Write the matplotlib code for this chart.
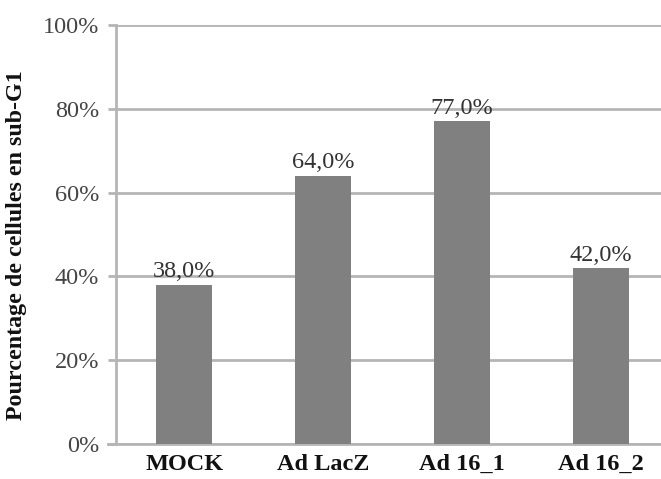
import matplotlib
matplotlib.use("Agg")
import matplotlib.pyplot as plt
from matplotlib.ticker import FuncFormatter

categories = ["MOCK", "Ad LacZ", "Ad 16_1", "Ad 16_2"]
values = [38.0, 64.0, 77.0, 42.0]
value_labels = ["38,0%", "64,0%", "77,0%", "42,0%"]
yticks = [0, 20, 40, 60, 80, 100]

plt.rcParams['font.family'] = ['Liberation Serif', 'DejaVu Serif']

fig = plt.figure(figsize=(6.61, 4.79), dpi=100)
axw = 1 - 116/661 + 0.02
ax = fig.add_axes([116/661, 35/479, axw, (444-25)/479])

x = list(range(len(categories)))
bars = ax.bar(x, values, width=0.40, color="#808080", zorder=3)
for xi, v, lab in zip(x, values, value_labels):
    ax.text(xi, v + 0.6, lab, ha="center", va="bottom", fontsize=17.5, color="#333333", zorder=4)

ax.set_ylim(0, 100)
ax.set_xlim(-0.49, -0.49 + axw * 661 / 139)
ax.set_yticks(yticks)
ax.yaxis.set_major_formatter(FuncFormatter(lambda v, p: f"{int(v)}%"))
ax.set_xticks(x)
ax.set_xticklabels(categories, fontsize=17.5, fontweight="bold", color="#111111")
ax.tick_params(axis="y", labelsize=17.5, labelcolor="#444444", length=6, width=2, color="#b5b5b5", pad=6)
ax.tick_params(axis="x", length=0, pad=7)
ax.grid(axis="y", color="#b5b5b5", linewidth=2, zorder=0)
for s in ["top", "right"]:
    ax.spines[s].set_visible(False)
ax.spines["left"].set_color("#b5b5b5")
ax.spines["left"].set_linewidth(2)
ax.spines["bottom"].set_color("#b5b5b5")
ax.spines["bottom"].set_linewidth(2)
ax.spines["bottom"].set_bounds(-0.55, 10)
ax.set_ylabel("Pourcentage de cellules en sub-G1", fontsize=17.3, fontweight="bold", color="#111111")
ax.yaxis.set_label_coords(-(116 - 27) / (axw * 661), 0.475)

fig.savefig("out.png", dpi=100)
